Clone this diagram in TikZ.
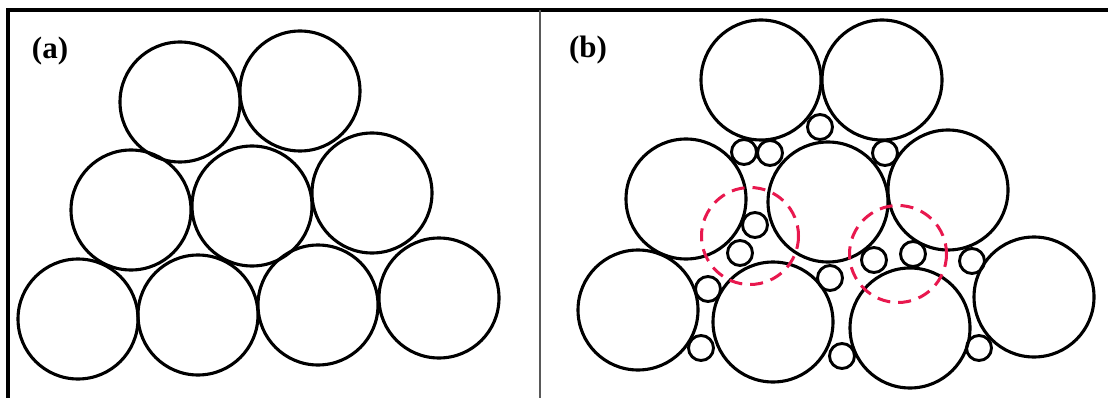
\documentclass[tikz,border=0pt]{standalone}
\usepackage{fontspec}
\setmainfont{Liberation Serif}
\definecolor{dashred}{RGB}{232,24,78}
\begin{document}
\begin{tikzpicture}[x=1pt,y=-1pt,
  big/.style={draw=black,line width=3.1pt},
  small/.style={draw=black,line width=2.9pt},
  pore/.style={draw=dashred,line width=3pt,dash pattern=on 13pt off 8pt},
  lbl/.style={font=\bfseries\fontsize{31}{31}\selectfont,inner sep=0pt}]
\useasboundingbox (0,0) rectangle (1108,398);
\fill[white] (0,0) rectangle (1108,398);
% frame
\draw[line width=3.4pt] (8,398) -- (8,10) -- (1108,10);
\draw[line width=2pt,black!65] (540,10) -- (540,398);
% labels
\node[lbl] (la) at (50,51) {(a)};
\node[lbl] (lb) at (588,50) {(b)};
% panel (a)
\foreach \x/\y in {180/102, 300/91,
                   131/210, 252/206, 372/193,
                   78/319, 198/315, 318/305, 439/298}
  \draw[big] (\x,\y) circle[radius=60];
% panel (b) large particles
\foreach \x/\y in {761/80, 882/80,
                   686/199, 828/202, 948/190,
                   638/310, 773/322, 910/328, 1034/297}
  \draw[big] (\x,\y) circle[radius=60];
% panel (b) small particles
\foreach \x/\y in {820/127, 744/152, 770/153, 885/153,
                   755/225, 740/253, 708/289, 830/278,
                   874/260, 913/254, 972/261,
                   701/348, 842/356, 979/348}
  \draw[small] (\x,\y) circle[radius=12.5];
% pores
\draw[pore] (750,236) circle[radius=48.5];
\draw[pore] (898,254) circle[radius=48.5];
\end{tikzpicture}
\end{document}
